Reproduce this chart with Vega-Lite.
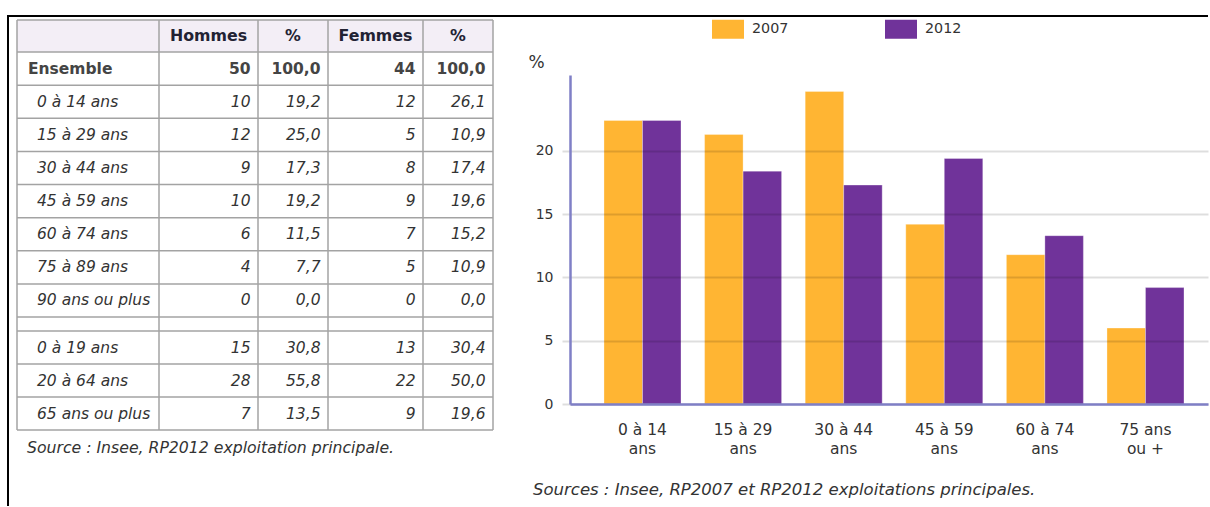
{
  "$schema": "https://vega.github.io/schema/vega-lite/v6.json",
  "padding": {"left": 7, "top": 12, "right": 0, "bottom": 0},
  "autosize": {"type": "pad"},
  "spacing": 0,
  "bounds": "flush",
  "resolve": {"legend": {"color": "independent"}, "scale": {"color": "independent"}},
  "datasets": {
    "table": [
      {"ri": 1, "label": "Ensemble", "h": 50, "hp": 100.0, "f": 44, "fp": 100.0},
      {"ri": 2, "label": "0 à 14 ans", "h": 10, "hp": 19.2, "f": 12, "fp": 26.1},
      {"ri": 3, "label": "15 à 29 ans", "h": 12, "hp": 25.0, "f": 5, "fp": 10.9},
      {"ri": 4, "label": "30 à 44 ans", "h": 9, "hp": 17.3, "f": 8, "fp": 17.4},
      {"ri": 5, "label": "45 à 59 ans", "h": 10, "hp": 19.2, "f": 9, "fp": 19.6},
      {"ri": 6, "label": "60 à 74 ans", "h": 6, "hp": 11.5, "f": 7, "fp": 15.2},
      {"ri": 7, "label": "75 à 89 ans", "h": 4, "hp": 7.7, "f": 5, "fp": 10.9},
      {"ri": 8, "label": "90 ans ou plus", "h": 0, "hp": 0.0, "f": 0, "fp": 0.0},
      {"ri": 10, "label": "0 à 19 ans", "h": 15, "hp": 30.8, "f": 13, "fp": 30.4},
      {"ri": 11, "label": "20 à 64 ans", "h": 28, "hp": 55.8, "f": 22, "fp": 50.0},
      {"ri": 12, "label": "65 ans ou plus", "h": 7, "hp": 13.5, "f": 9, "fp": 19.6}
    ],
    "bars": [
      {"age": "0 à 14 ans", "year": "2007", "pct": 22.4},
      {"age": "0 à 14 ans", "year": "2012", "pct": 22.4},
      {"age": "15 à 29 ans", "year": "2007", "pct": 21.3},
      {"age": "15 à 29 ans", "year": "2012", "pct": 18.4},
      {"age": "30 à 44 ans", "year": "2007", "pct": 24.7},
      {"age": "30 à 44 ans", "year": "2012", "pct": 17.3},
      {"age": "45 à 59 ans", "year": "2007", "pct": 14.2},
      {"age": "45 à 59 ans", "year": "2012", "pct": 19.4},
      {"age": "60 à 74 ans", "year": "2007", "pct": 11.8},
      {"age": "60 à 74 ans", "year": "2012", "pct": 13.3},
      {"age": "75 ans ou +", "year": "2007", "pct": 6.0},
      {"age": "75 ans ou +", "year": "2012", "pct": 9.2}
    ]
  },
  "hconcat": [
    {
      "width": 562,
      "height": 490,
      "view": {"stroke": "#000000", "strokeWidth": 2, "strokeDash": [562, 1052, 490]},
      "layer": [
        {
          "data": {"values": [{"part": "header"}]},
          "mark": {"type": "rect", "fill": "#f3eef6"},
          "encoding": {
            "x": {"datum": 0, "type": "quantitative", "scale": {"domain": [0, 1, 2, 3, 4, 5], "range": [9, 151, 250, 320, 415, 485], "zero": false, "nice": false}, "axis": null},
            "x2": {"datum": 5},
            "y": {"datum": 0, "type": "quantitative", "scale": {"domain": [0, 1, 9, 10, 13], "range": [4, 36, 301, 315, 414], "zero": false, "nice": false}, "axis": null},
            "y2": {"datum": 1}
          }
        },
        {
          "data": {"values": [{"e": 0}, {"e": 1}, {"e": 2}, {"e": 3}, {"e": 4}, {"e": 5}, {"e": 6}, {"e": 7}, {"e": 8}, {"e": 9}, {"e": 10}, {"e": 11}, {"e": 12}, {"e": 13}]},
          "mark": {"type": "rule", "stroke": "#a3a3a3", "strokeWidth": 1.5},
          "encoding": {
            "x": {"datum": 0, "type": "quantitative", "scale": {"domain": [0, 1, 2, 3, 4, 5], "range": [9, 151, 250, 320, 415, 485], "zero": false, "nice": false}, "axis": null},
            "x2": {"datum": 5},
            "y": {"field": "e", "type": "quantitative", "scale": {"domain": [0, 1, 9, 10, 13], "range": [4, 36, 301, 315, 414], "zero": false, "nice": false}, "axis": null}
          }
        },
        {
          "data": {"values": [{"e": 0}, {"e": 1}, {"e": 2}, {"e": 3}, {"e": 4}, {"e": 5}]},
          "mark": {"type": "rule", "stroke": "#a3a3a3", "strokeWidth": 1.5},
          "encoding": {
            "x": {"field": "e", "type": "quantitative", "scale": {"domain": [0, 1, 2, 3, 4, 5], "range": [9, 151, 250, 320, 415, 485], "zero": false, "nice": false}, "axis": null},
            "y": {"datum": 0, "type": "quantitative", "scale": {"domain": [0, 1, 9, 10, 13], "range": [4, 36, 301, 315, 414], "zero": false, "nice": false}, "axis": null},
            "y2": {"datum": 13}
          }
        },
        {
          "data": {"values": [{"name": "Hommes"}]},
          "mark": {"type": "text", "align": "center", "baseline": "middle", "dy": 16, "font": "DejaVu Sans", "fontSize": 15.8, "fontWeight": "bold", "color": "#222233"},
          "encoding": {
            "x": {"datum": 1.5, "type": "quantitative", "scale": {"domain": [0, 1, 2, 3, 4, 5], "range": [9, 151, 250, 320, 415, 485], "zero": false, "nice": false}, "axis": null},
            "y": {"datum": 0, "type": "quantitative", "scale": {"domain": [0, 1, 9, 10, 13], "range": [4, 36, 301, 315, 414], "zero": false, "nice": false}, "axis": null},
            "text": {"field": "name"}
          }
        },
        {
          "data": {"values": [{"name": "%"}]},
          "mark": {"type": "text", "align": "center", "baseline": "middle", "dy": 16, "font": "DejaVu Sans", "fontSize": 15.8, "fontWeight": "bold", "color": "#222233"},
          "encoding": {
            "x": {"datum": 2.5, "type": "quantitative", "scale": {"domain": [0, 1, 2, 3, 4, 5], "range": [9, 151, 250, 320, 415, 485], "zero": false, "nice": false}, "axis": null},
            "y": {"datum": 0, "type": "quantitative", "scale": {"domain": [0, 1, 9, 10, 13], "range": [4, 36, 301, 315, 414], "zero": false, "nice": false}, "axis": null},
            "text": {"field": "name"}
          }
        },
        {
          "data": {"values": [{"name": "Femmes"}]},
          "mark": {"type": "text", "align": "center", "baseline": "middle", "dy": 16, "font": "DejaVu Sans", "fontSize": 15.8, "fontWeight": "bold", "color": "#222233"},
          "encoding": {
            "x": {"datum": 3.5, "type": "quantitative", "scale": {"domain": [0, 1, 2, 3, 4, 5], "range": [9, 151, 250, 320, 415, 485], "zero": false, "nice": false}, "axis": null},
            "y": {"datum": 0, "type": "quantitative", "scale": {"domain": [0, 1, 9, 10, 13], "range": [4, 36, 301, 315, 414], "zero": false, "nice": false}, "axis": null},
            "text": {"field": "name"}
          }
        },
        {
          "data": {"values": [{"name": "%"}]},
          "mark": {"type": "text", "align": "center", "baseline": "middle", "dy": 16, "font": "DejaVu Sans", "fontSize": 15.8, "fontWeight": "bold", "color": "#222233"},
          "encoding": {
            "x": {"datum": 4.5, "type": "quantitative", "scale": {"domain": [0, 1, 2, 3, 4, 5], "range": [9, 151, 250, 320, 415, 485], "zero": false, "nice": false}, "axis": null},
            "y": {"datum": 0, "type": "quantitative", "scale": {"domain": [0, 1, 9, 10, 13], "range": [4, 36, 301, 315, 414], "zero": false, "nice": false}, "axis": null},
            "text": {"field": "name"}
          }
        },
        {
          "data": {"name": "table"},
          "transform": [{"filter": "datum.ri != 1"}],
          "mark": {"type": "text", "align": "left", "baseline": "middle", "dx": 20, "dy": 16.5, "font": "DejaVu Sans", "fontSize": 15.5, "fontStyle": "italic", "color": "#333333"},
          "encoding": {
            "x": {"datum": 0, "type": "quantitative", "scale": {"domain": [0, 1, 2, 3, 4, 5], "range": [9, 151, 250, 320, 415, 485], "zero": false, "nice": false}, "axis": null},
            "y": {"field": "ri", "type": "quantitative", "scale": {"domain": [0, 1, 9, 10, 13], "range": [4, 36, 301, 315, 414], "zero": false, "nice": false}, "axis": null},
            "text": {"field": "label"}
          }
        },
        {
          "data": {"name": "table"},
          "transform": [{"filter": "datum.ri == 1"}],
          "mark": {"type": "text", "align": "left", "baseline": "middle", "dx": 11, "dy": 16.5, "font": "DejaVu Sans", "fontSize": 15.5, "fontWeight": "bold", "color": "#444444"},
          "encoding": {
            "x": {"datum": 0, "type": "quantitative", "scale": {"domain": [0, 1, 2, 3, 4, 5], "range": [9, 151, 250, 320, 415, 485], "zero": false, "nice": false}, "axis": null},
            "y": {"field": "ri", "type": "quantitative", "scale": {"domain": [0, 1, 9, 10, 13], "range": [4, 36, 301, 315, 414], "zero": false, "nice": false}, "axis": null},
            "text": {"field": "label"}
          }
        },
        {
          "data": {"name": "table"},
          "transform": [{"filter": "datum.ri != 1"}],
          "mark": {"type": "text", "align": "right", "baseline": "middle", "dx": -7.5, "dy": 16.5, "font": "DejaVu Sans", "fontSize": 15.5, "fontStyle": "italic", "color": "#333333"},
          "encoding": {
            "x": {"datum": 2, "type": "quantitative", "scale": {"domain": [0, 1, 2, 3, 4, 5], "range": [9, 151, 250, 320, 415, 485], "zero": false, "nice": false}, "axis": null},
            "y": {"field": "ri", "type": "quantitative", "scale": {"domain": [0, 1, 9, 10, 13], "range": [4, 36, 301, 315, 414], "zero": false, "nice": false}, "axis": null},
            "text": {"field": "h", "format": "d"}
          }
        },
        {
          "data": {"name": "table"},
          "transform": [{"filter": "datum.ri != 1"}],
          "mark": {"type": "text", "align": "right", "baseline": "middle", "dx": -7.5, "dy": 16.5, "font": "DejaVu Sans", "fontSize": 15.5, "fontStyle": "italic", "color": "#333333"},
          "encoding": {
            "x": {"datum": 3, "type": "quantitative", "scale": {"domain": [0, 1, 2, 3, 4, 5], "range": [9, 151, 250, 320, 415, 485], "zero": false, "nice": false}, "axis": null},
            "y": {"field": "ri", "type": "quantitative", "scale": {"domain": [0, 1, 9, 10, 13], "range": [4, 36, 301, 315, 414], "zero": false, "nice": false}, "axis": null},
            "text": {"field": "hp", "format": ".1f"}
          }
        },
        {
          "data": {"name": "table"},
          "transform": [{"filter": "datum.ri != 1"}],
          "mark": {"type": "text", "align": "right", "baseline": "middle", "dx": -7.5, "dy": 16.5, "font": "DejaVu Sans", "fontSize": 15.5, "fontStyle": "italic", "color": "#333333"},
          "encoding": {
            "x": {"datum": 4, "type": "quantitative", "scale": {"domain": [0, 1, 2, 3, 4, 5], "range": [9, 151, 250, 320, 415, 485], "zero": false, "nice": false}, "axis": null},
            "y": {"field": "ri", "type": "quantitative", "scale": {"domain": [0, 1, 9, 10, 13], "range": [4, 36, 301, 315, 414], "zero": false, "nice": false}, "axis": null},
            "text": {"field": "f", "format": "d"}
          }
        },
        {
          "data": {"name": "table"},
          "transform": [{"filter": "datum.ri != 1"}],
          "mark": {"type": "text", "align": "right", "baseline": "middle", "dx": -7.5, "dy": 16.5, "font": "DejaVu Sans", "fontSize": 15.5, "fontStyle": "italic", "color": "#333333"},
          "encoding": {
            "x": {"datum": 5, "type": "quantitative", "scale": {"domain": [0, 1, 2, 3, 4, 5], "range": [9, 151, 250, 320, 415, 485], "zero": false, "nice": false}, "axis": null},
            "y": {"field": "ri", "type": "quantitative", "scale": {"domain": [0, 1, 9, 10, 13], "range": [4, 36, 301, 315, 414], "zero": false, "nice": false}, "axis": null},
            "text": {"field": "fp", "format": ".1f"}
          }
        },
        {
          "data": {"name": "table"},
          "transform": [{"filter": "datum.ri == 1"}],
          "mark": {"type": "text", "align": "right", "baseline": "middle", "dx": -7.5, "dy": 16.5, "font": "DejaVu Sans", "fontSize": 15.5, "fontWeight": "bold", "color": "#444444"},
          "encoding": {
            "x": {"datum": 2, "type": "quantitative", "scale": {"domain": [0, 1, 2, 3, 4, 5], "range": [9, 151, 250, 320, 415, 485], "zero": false, "nice": false}, "axis": null},
            "y": {"field": "ri", "type": "quantitative", "scale": {"domain": [0, 1, 9, 10, 13], "range": [4, 36, 301, 315, 414], "zero": false, "nice": false}, "axis": null},
            "text": {"field": "h", "format": "d"}
          }
        },
        {
          "data": {"name": "table"},
          "transform": [{"filter": "datum.ri == 1"}],
          "mark": {"type": "text", "align": "right", "baseline": "middle", "dx": -7.5, "dy": 16.5, "font": "DejaVu Sans", "fontSize": 15.5, "fontWeight": "bold", "color": "#444444"},
          "encoding": {
            "x": {"datum": 3, "type": "quantitative", "scale": {"domain": [0, 1, 2, 3, 4, 5], "range": [9, 151, 250, 320, 415, 485], "zero": false, "nice": false}, "axis": null},
            "y": {"field": "ri", "type": "quantitative", "scale": {"domain": [0, 1, 9, 10, 13], "range": [4, 36, 301, 315, 414], "zero": false, "nice": false}, "axis": null},
            "text": {"field": "hp", "format": ".1f"}
          }
        },
        {
          "data": {"name": "table"},
          "transform": [{"filter": "datum.ri == 1"}],
          "mark": {"type": "text", "align": "right", "baseline": "middle", "dx": -7.5, "dy": 16.5, "font": "DejaVu Sans", "fontSize": 15.5, "fontWeight": "bold", "color": "#444444"},
          "encoding": {
            "x": {"datum": 4, "type": "quantitative", "scale": {"domain": [0, 1, 2, 3, 4, 5], "range": [9, 151, 250, 320, 415, 485], "zero": false, "nice": false}, "axis": null},
            "y": {"field": "ri", "type": "quantitative", "scale": {"domain": [0, 1, 9, 10, 13], "range": [4, 36, 301, 315, 414], "zero": false, "nice": false}, "axis": null},
            "text": {"field": "f", "format": "d"}
          }
        },
        {
          "data": {"name": "table"},
          "transform": [{"filter": "datum.ri == 1"}],
          "mark": {"type": "text", "align": "right", "baseline": "middle", "dx": -7.5, "dy": 16.5, "font": "DejaVu Sans", "fontSize": 15.5, "fontWeight": "bold", "color": "#444444"},
          "encoding": {
            "x": {"datum": 5, "type": "quantitative", "scale": {"domain": [0, 1, 2, 3, 4, 5], "range": [9, 151, 250, 320, 415, 485], "zero": false, "nice": false}, "axis": null},
            "y": {"field": "ri", "type": "quantitative", "scale": {"domain": [0, 1, 9, 10, 13], "range": [4, 36, 301, 315, 414], "zero": false, "nice": false}, "axis": null},
            "text": {"field": "fp", "format": ".1f"}
          }
        },
        {
          "data": {"values": [{"src": "Source : Insee, RP2012 exploitation principale."}]},
          "mark": {"type": "text", "align": "left", "baseline": "middle", "dx": 10, "dy": 18, "font": "DejaVu Sans", "fontSize": 15.7, "fontStyle": "italic", "color": "#333333"},
          "encoding": {
            "x": {"datum": 0, "type": "quantitative", "scale": {"domain": [0, 1, 2, 3, 4, 5], "range": [9, 151, 250, 320, 415, 485], "zero": false, "nice": false}, "axis": null},
            "y": {"datum": 13, "type": "quantitative", "scale": {"domain": [0, 1, 9, 10, 13], "range": [4, 36, 301, 315, 414], "zero": false, "nice": false}, "axis": null},
            "text": {"field": "src"}
          }
        }
      ]
    },
    {
      "width": 638,
      "height": 388,
      "view": {"stroke": "#000000", "strokeWidth": 2, "strokeDash": [638, 3000]},
      "data": {"name": "bars"},
      "title": {"text": "Sources : Insee, RP2007 et RP2012 exploitations principales.", "orient": "bottom", "anchor": "start", "frame": "group", "dx": -37, "offset": 25, "baseline": "top", "font": "DejaVu Sans", "fontSize": 16.5, "fontStyle": "italic", "fontWeight": "normal", "color": "#333333"},
      "mark": {"type": "bar", "stroke": "#ffffff", "strokeOpacity": 0.3, "strokeWidth": 1},
      "encoding": {
        "x": {
          "field": "age", "type": "nominal", "sort": null,
          "scale": {"paddingInner": 0.2346, "paddingOuter": 0.2883, "align": 0.586},
          "axis": {"title": null, "ticks": false, "tickSize": 0, "domain": true, "domainColor": "#7f7fc6", "domainWidth": 2.5, "labelAngle": 0, "labelFont": "DejaVu Sans", "labelFontSize": 15.5, "labelColor": "#333333", "labelPadding": 18, "labelBaseline": "top", "labelLineHeight": 19, "labelExpr": "datum.label == '75 ans ou +' ? ['75 ans', 'ou +'] : [substring(datum.label, 0, lastindexof(datum.label, ' ')), 'ans']", "zindex": 1}
        },
        "xOffset": {"field": "year", "type": "nominal"},
        "y": {
          "field": "pct", "type": "quantitative",
          "scale": {"domain": [0, 30.66], "nice": false},
          "axis": {"values": [0, 5, 10, 15, 20], "grid": true, "gridColor": "#000000", "gridOpacity": 0.13, "gridWidth": 2, "ticks": true, "tickColor": "#000000", "tickOpacity": 0.13, "tickSize": 8, "tickWidth": 2, "domain": true, "domainColor": "#7f7fc6", "domainWidth": 2.5, "domainDash": [329, 1000], "labelFont": "DejaVu Sans", "labelFontSize": 14, "labelColor": "#333333", "labelPadding": 9, "title": "%", "titleAngle": 0, "titleAlign": "left", "titleBaseline": "top", "titleX": -42, "titleY": 38, "titleFont": "DejaVu Sans", "titleFontSize": 17, "titleFontWeight": "normal", "titleColor": "#333333", "zindex": 1}
        },
        "color": {
          "field": "year", "type": "nominal",
          "scale": {"range": ["#ffb533", "#70339a"]},
          "legend": {"title": null, "orient": "none", "legendX": 142, "legendY": -3, "direction": "horizontal", "symbolType": "M-1,-0.594H1V0.594H-1Z", "symbolSize": 1024, "symbolStrokeWidth": 0, "symbolOpacity": 1, "labelFont": "DejaVu Sans", "labelFontSize": 14.3, "labelColor": "#333333", "labelOffset": 8, "columnPadding": 96}
        }
      }
    }
  ],
  "config": {
    "font": "DejaVu Sans",
    "locale": {"number": {"decimal": ",", "thousands": " ", "grouping": [3], "currency": ["", " €"]}}
  }
}
